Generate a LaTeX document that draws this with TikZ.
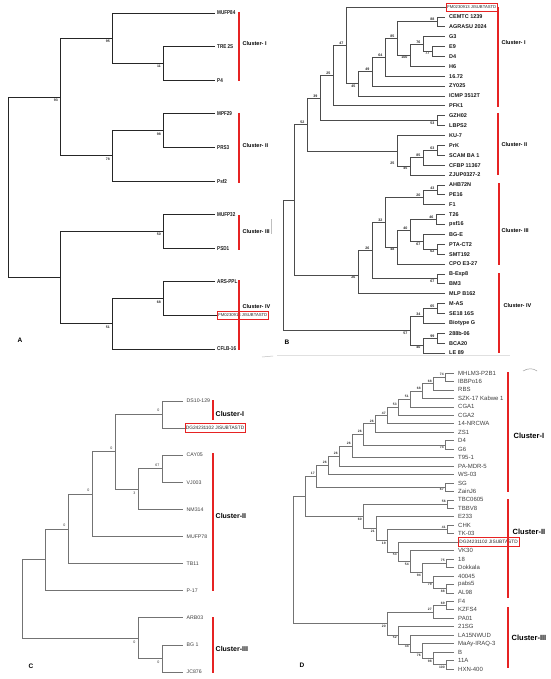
\documentclass[tikz,border=0pt]{standalone}
\usepackage{fontspec}
\setmainfont{Liberation Sans}
\newfontfamily\narrowsans[FakeStretch=0.82]{Liberation Sans}
\definecolor{barred}{RGB}{230,35,35}

\begin{document}
\begin{tikzpicture}[x=1pt, y=-1pt,
    brA/.style={draw=black!85, line width=0.9pt},
    brB/.style={draw=black!70, line width=0.75pt},
    brC/.style={draw=black!55, line width=0.7pt},
    brD/.style={draw=black!55, line width=0.65pt},
    leafA/.style={anchor=west, inner xsep=2pt, inner ysep=0.5pt, text=black!90, font=\narrowsans\fontsize{5.6}{6}\selectfont\bfseries},
    leafB/.style={anchor=west, inner xsep=4pt, inner ysep=0.5pt, text=black!90, font=\fontsize{5.5}{6}\selectfont\bfseries},
    leafC/.style={anchor=west, inner xsep=3.5pt, inner ysep=0.5pt, text=black!75, font=\fontsize{5.2}{6}\selectfont},
    leafD/.style={anchor=west, inner xsep=4pt, inner ysep=0.5pt, text=black!75, font=\fontsize{6}{7}\selectfont},
    boxA/.style={anchor=west, draw=barred, line width=0.6pt, inner xsep=1pt, inner ysep=2.4pt, text=black!85, font=\fontsize{4.2}{5}\selectfont},
    boxC/.style={anchor=west, draw=barred, line width=0.6pt, inner xsep=1pt, inner ysep=2.7pt, text=black!85, font=\fontsize{4.8}{5.5}\selectfont},
    bsA/.style={font=\fontsize{3.5}{4}\selectfont\bfseries, inner sep=0.5pt, label distance=2pt, text=black!85},
    bsB/.style={font=\fontsize{3.6}{4}\selectfont\bfseries, inner xsep=2.5pt, inner ysep=0.6pt, text=black!85},
    bsC/.style={font=\fontsize{3.6}{4}\selectfont, inner sep=0.6pt, label distance=2.5pt, text=black!80},
    bsD/.style={font=\fontsize{3.3}{4}\selectfont\bfseries, inner sep=0.6pt, label distance=0.8pt, text=black!80},
    cluAB/.style={anchor=west, inner sep=0.5pt, font=\fontsize{5.5}{6}\selectfont\bfseries},
    cluC/.style={anchor=west, inner sep=0.5pt, font=\fontsize{7}{8}\selectfont\bfseries},
    cluD/.style={anchor=west, inner sep=0.5pt, font=\fontsize{7.5}{8}\selectfont\bfseries},
    redbar/.style={draw=barred, line width=1.1pt},
    panel/.style={font=\fontsize{6.5}{7}\selectfont\bfseries}
]

\fill[white] (0,0) rectangle (550,679);
\useasboundingbox (0,0) rectangle (550,679);


% A
\node[leafA] (mufp84) at (215,13) {MUFP84};
\node[leafA] (tre2s) at (215,46.6) {TRE 2S};
\node[leafA] (pfour) at (215,80.2) {P4};
\node[leafA] (mpf29) at (215,113.8) {MPF29};
\node[leafA] (prs3) at (215,147.4) {PRS3};
\node[leafA] (psf2) at (215,181) {Psf2};
\node[leafA] (mufp32) at (215,214.6) {MUFP32};
\node[leafA] (psd1) at (215,248.2) {PSD1};
\node[leafA] (arsppl) at (215,281.8) {ARS-PPL};
\node[boxA] (fmA) at (217,315.4) {FM0230913 JISUBTASTD};
\node[leafA] (cflb) at (215,349) {CFLB-16};

\coordinate[label={[bsA]below left:11}] (a1) at (163,63.4);
\coordinate[label={[bsA]below left:95}] (a2) at (112,38.2);
\coordinate[label={[bsA]below left:98}] (a3) at (163,130.6);
\coordinate[label={[bsA]below left:78}] (a4) at (112,155.8);
\coordinate[label={[bsA]below left:93}] (a5) at (60,97);
\coordinate[label={[bsA]below left:50}] (a6) at (163,231.4);
\coordinate[label={[bsA]below left:68}] (a7) at (163,298.6);
\coordinate[label={[bsA]below left:51}] (a8) at (112,323.8);
\coordinate (a9) at (60,277.6);
\coordinate (a0) at (8,187.3);

\draw[brA] (a1) |- (tre2s) (a1) |- (pfour);
\draw[brA] (a2) |- (mufp84) (a2) |- (a1);
\draw[brA] (a3) |- (mpf29) (a3) |- (prs3);
\draw[brA] (a4) |- (a3) (a4) |- (psf2);
\draw[brA] (a5) |- (a2) (a5) |- (a4);
\draw[brA] (a6) |- (mufp32) (a6) |- (psd1);
\draw[brA] (a7) |- (arsppl) (a7) |- (fmA);
\draw[brA] (a8) |- (a7) (a8) |- (cflb);
\draw[brA] (a9) |- (a6) (a9) |- (a8);
\draw[brA] (a0) |- (a5) (a0) |- (a9);

\draw[redbar] (239,12) -- (239,81);
\draw[redbar] (239,113) -- (239,183);
\draw[redbar] (239,215) -- (239,250);
\draw[redbar] (239,280) -- (239,350);
\node[cluAB] (cA1) at (242,44) {Cluster- I};
\node[cluAB] (cA2) at (242,146) {Cluster- II};
\node[cluAB] (cA3) at (242,232) {Cluster- III};
\node[cluAB] (cA4) at (242,307) {Cluster- IV};

\node[panel] (pA) at (20,340) {A};
\draw[black!25, line width=0.5pt] (262,357) -- (273,356);


% B
\node[boxA] (fmB) at (446,7) {FM0230913 JISUBTASTD};
\node[leafB] (cemtc) at (445,16.886) {CEMTC 1239};
\node[leafB] (agrasu) at (445,26.772) {AGRASU 2024};
\node[leafB] (gthree) at (445,36.658) {G3};
\node[leafB] (enine) at (445,46.544) {E9};
\node[leafB] (dfourB) at (445,56.43) {D4};
\node[leafB] (hsix) at (445,66.316) {H6};
\node[leafB] (s1672) at (445,76.202) {16.72};
\node[leafB] (zy025) at (445,86.088) {ZY025};
\node[leafB] (icmp) at (445,95.974) {ICMP 3512T};
\node[leafB] (pfk1) at (445,105.86) {PFK1};
\node[leafB] (gzh02) at (445,115.746) {GZH02};
\node[leafB] (lbps2) at (445,125.632) {LBPS2};
\node[leafB] (ku7) at (445,135.518) {KU-7};
\node[leafB] (prk) at (445,145.404) {PrK};
\node[leafB] (scam) at (445,155.29) {SCAM BA 1};
\node[leafB] (cfbp) at (445,165.176) {CFBP 11367};
\node[leafB] (zjup) at (445,175.062) {ZJUP0327-2};
\node[leafB] (ahb72n) at (445,184.948) {AHB72N};
\node[leafB] (pe16) at (445,194.834) {PE16};
\node[leafB] (fone) at (445,204.72) {F1};
\node[leafB] (t26) at (445,214.606) {T26};
\node[leafB] (psf16) at (445,224.492) {psf16};
\node[leafB] (bge) at (445,234.378) {BG-E};
\node[leafB] (ptact2) at (445,244.264) {PTA-CT2};
\node[leafB] (smt192) at (445,254.15) {SMT192};
\node[leafB] (cpo) at (445,264.036) {CPO E3-27};
\node[leafB] (bexp8) at (445,273.922) {B-Exp8};
\node[leafB] (bm3) at (445,283.808) {BM3};
\node[leafB] (mlp) at (445,293.694) {MLP B162};
\node[leafB] (mas) at (445,303.58) {M-AS};
\node[leafB] (se18) at (445,313.466) {SE18 16S};
\node[leafB] (biotype) at (445,323.352) {Biotype G};
\node[leafB] (b288) at (445,333.238) {288b-06};
\node[leafB] (bca20) at (445,343.124) {BCA20};
\node[leafB] (le89) at (445,353.01) {LE 89};

\coordinate[label={[bsB]above left:88}] (b1) at (437,21.83);
\coordinate[label={[bsB]below left:77}] (b2) at (432,51.49);
\coordinate[label={[bsB]above left:76}] (b3) at (423,44.07);
\coordinate[label={[bsB]below left:100}] (b4) at (410,55.19);
\coordinate[label={[bsB]above left:85}] (b5) at (397,38.51);
\coordinate[label={[bsB]above left:64}] (b6) at (385,57.36);
\coordinate[label={[bsB]above left:49}] (b7) at (372,71.72);
\coordinate[label={[bsB]below left:45}] (b8) at (358,83.85);
\coordinate[label={[bsB]above left:47}] (b9) at (346,45.42);
\coordinate[label={[bsB]above left:25}] (b10) at (333,75.64);
\coordinate[label={[bsB]below left:53}] (b11) at (437,120.69);
\coordinate[label={[bsB]above left:39}] (b12) at (320,98.17);
\coordinate[label={[bsB]above left:63}] (b13) at (437,150.35);
\coordinate[label={[bsB]above left:85}] (b14) at (423,157.76);
\coordinate[label={[bsB]below left:45}] (b15) at (410,166.41);
\coordinate[label={[bsB,yshift=-10pt]below left:25}] (b16) at (397,150.97);
\coordinate[label={[bsB]above left:52}] (b17) at (307,124.56);
\coordinate[label={[bsB]above left:43}] (b18) at (437,189.89);
\coordinate[label={[bsB]above left:20}] (b19) at (423,197.31);
\coordinate[label={[bsB]above left:46}] (b20) at (436,219.55);
\coordinate[label={[bsB]below left:62}] (b21) at (437,249.21);
\coordinate[label={[bsB]below left:67}] (b22) at (423,241.8);
\coordinate[label={[bsB]above left:40}] (b23) at (410,230.67);
\coordinate[label={[bsB]below left:48}] (b24) at (397,247.35);
\coordinate[label={[bsB]above left:32}] (b25) at (385,222.33);
\coordinate[label={[bsB]below left:67}] (b26) at (437,278.87);
\coordinate[label={[bsB]above left:26}] (b27) at (372,250.6);
\coordinate[label={[bsB]below left:26}] (b28) at (358,275.6);
\coordinate (b29) at (294,200.1);
\coordinate[label={[bsB]above left:65}] (b30) at (437,308.52);
\coordinate[label={[bsB]above left:34}] (b31) at (423,315.94);
\coordinate[label={[bsB]above left:99}] (b32) at (437,338.18);
\coordinate[label={[bsB]below left:40}] (b33) at (423,345.6);
\coordinate[label={[bsB]below left:57}] (b34) at (410,330.77);
\coordinate (b0) at (283,265.4);

\draw[brB] (b1) |- (cemtc) (b1) |- (agrasu);
\draw[brB] (b2) |- (enine) (b2) |- (dfourB);
\draw[brB] (b3) |- (gthree) (b3) |- (b2);
\draw[brB] (b4) |- (b3) (b4) |- (hsix);
\draw[brB] (b5) |- (b1) (b5) |- (b4);
\draw[brB] (b6) |- (b5) (b6) |- (s1672);
\draw[brB] (b7) |- (b6) (b7) |- (zy025);
\draw[brB] (b8) |- (b7) (b8) |- (icmp);
\draw[brB] (b9) |- (fmB) (b9) |- (b8);
\draw[brB] (b10) |- (b9) (b10) |- (pfk1);
\draw[brB] (b11) |- (gzh02) (b11) |- (lbps2);
\draw[brB] (b12) |- (b10) (b12) |- (b11);
\draw[brB] (b13) |- (prk) (b13) |- (scam);
\draw[brB] (b14) |- (b13) (b14) |- (cfbp);
\draw[brB] (b15) |- (b14) (b15) |- (zjup);
\draw[brB] (b16) |- (ku7) (b16) |- (b15);
\draw[brB] (b17) |- (b12) (b17) |- (b16);
\draw[brB] (b18) |- (ahb72n) (b18) |- (pe16);
\draw[brB] (b19) |- (b18) (b19) |- (fone);
\draw[brB] (b20) |- (t26) (b20) |- (psf16);
\draw[brB] (b21) |- (ptact2) (b21) |- (smt192);
\draw[brB] (b22) |- (bge) (b22) |- (b21);
\draw[brB] (b23) |- (b20) (b23) |- (b22);
\draw[brB] (b24) |- (b23) (b24) |- (cpo);
\draw[brB] (b25) |- (b19) (b25) |- (b24);
\draw[brB] (b26) |- (bexp8) (b26) |- (bm3);
\draw[brB] (b27) |- (b25) (b27) |- (b26);
\draw[brB] (b28) |- (b27) (b28) |- (mlp);
\draw[brB] (b29) |- (b17) (b29) |- (b28);
\draw[brB] (b30) |- (mas) (b30) |- (se18);
\draw[brB] (b31) |- (b30) (b31) |- (biotype);
\draw[brB] (b32) |- (b288) (b32) |- (bca20);
\draw[brB] (b33) |- (b32) (b33) |- (le89);
\draw[brB] (b34) |- (b31) (b34) |- (b33);
\draw[brB] (b0) |- (b29) (b0) |- (b34);

\draw[redbar] (498,7) -- (498,107);
\draw[redbar] (498,113) -- (498,175);
\draw[redbar] (499,183) -- (499,265);
\draw[redbar] (499,273) -- (499,353);
\node[cluAB] (cB1) at (501,43) {Cluster- I};
\node[cluAB] (cB2) at (501,145) {Cluster- II};
\node[cluAB] (cB3) at (501,231) {Cluster- III};
\node[cluAB] (cB4) at (503,306) {Cluster- IV};

\node[panel] (pB) at (287,342) {B};
\draw[black!12, line width=0.6pt] (277,355.5) -- (510,355.5);
\draw[black!25, line width=0.5pt] (271.5,219) -- (271.5,234);


% C
\node[leafC] (ds10) at (183,401) {DS10-129};
\node[boxC] (dgC) at (184.5,428.1) {DG24231102 JISUBTASTD};
\node[leafC] (cay05) at (183,455.2) {CAY05};
\node[leafC] (vj003) at (183,482.3) {VJ003};
\node[leafC] (nm314) at (183,509.4) {NM314};
\node[leafC] (mufp78) at (183,536.5) {MUFP78};
\node[leafC] (tb11) at (183,563.6) {TB11};
\node[leafC] (p17) at (183,590.7) {P-17};
\node[leafC] (arb03) at (183,617.8) {ARB03};
\node[leafC] (bg1) at (183,644.9) {BG 1};
\node[leafC] (jc876) at (183,672) {JC876};

\coordinate[label={[bsC]above left:0}] (c1) at (162,414.55);
\coordinate[label={[bsC]above left:67}] (c2) at (162,468.75);
\coordinate[label={[bsC]below left:3}] (c3) at (138,489.08);
\coordinate[label={[bsC]above left:0}] (c4) at (115,451.81);
\coordinate[label={[bsC]above left:0}] (c5) at (92,494.16);
\coordinate[label={[bsC]above left:0}] (c6) at (68,528.9);
\coordinate (c7) at (45,559.8);
\coordinate[label={[bsC]below left:0}] (c8) at (162,658.45);
\coordinate[label={[bsC]below left:0}] (c9) at (138,638.1);
\coordinate (c0) at (22,599);

\draw[brC] (c1) |- (ds10) (c1) |- (dgC);
\draw[brC] (c2) |- (cay05) (c2) |- (vj003);
\draw[brC] (c3) |- (c2) (c3) |- (nm314);
\draw[brC] (c4) |- (c1) (c4) |- (c3);
\draw[brC] (c5) |- (c4) (c5) |- (mufp78);
\draw[brC] (c6) |- (c5) (c6) |- (tb11);
\draw[brC] (c7) |- (c6) (c7) |- (p17);
\draw[brC] (c8) |- (bg1) (c8) |- (jc876);
\draw[brC] (c9) |- (arb03) (c9) |- (c8);
\draw[brC] (c0) |- (c7) (c0) |- (c9);

\draw[redbar] (213,400) -- (213,420);
\draw[redbar] (213,453) -- (213,591);
\draw[redbar] (213,617) -- (213,673);
\node[cluC] (cC1) at (215,414) {Cluster-I};
\node[cluC] (cC2) at (215,516) {Cluster-II};
\node[cluC] (cC3) at (215,649) {Cluster-III};

\node[panel] (pC) at (31,666) {C};


% D
\node[leafD] (mhlm3) at (454,373) {MHLM3-P2B1};
\node[leafD] (ibbpo16) at (454,381.457) {IBBPo16};
\node[leafD] (rbs) at (454,389.914) {RBS};
\node[leafD] (szk17) at (454,398.371) {SZK-17 Kabwe 1};
\node[leafD] (cga1) at (454,406.828) {CGA1};
\node[leafD] (cga2) at (454,415.285) {CGA2};
\node[leafD] (nrcwa) at (454,423.742) {14-NRCWA};
\node[leafD] (zs1) at (454,432.199) {ZS1};
\node[leafD] (dfourD) at (454,440.656) {D4};
\node[leafD] (gsix) at (454,449.113) {G6};
\node[leafD] (t951) at (454,457.57) {T95-1};
\node[leafD] (pamdr5) at (454,466.027) {PA-MDR-5};
\node[leafD] (ws03) at (454,474.484) {WS-03};
\node[leafD] (sg) at (454,482.941) {SG};
\node[leafD] (zainj6) at (454,491.398) {ZainJ6};
\node[leafD] (tbc0605) at (454,499.855) {TBC0605};
\node[leafD] (tbbv8) at (454,508.312) {TBBV8};
\node[leafD] (e233) at (454,516.769) {E233};
\node[leafD] (chk) at (454,525.226) {CHK};
\node[leafD] (tk03) at (454,533.683) {TK-03};
\node[boxC] (dgD) at (458,542.14) {DG24231102 JISUBTASTD};
\node[leafD] (vk30) at (454,550.597) {VK30};
\node[leafD] (eighteen) at (454,559.054) {18};
\node[leafD] (dokkala) at (454,567.511) {Dokkala};
\node[leafD] (n40045) at (454,575.968) {40045};
\node[leafD] (pabs5) at (454,584.425) {pabs5};
\node[leafD] (al98) at (454,592.882) {AL98};
\node[leafD] (ffour) at (454,601.339) {F4};
\node[leafD] (kzfs4) at (454,609.796) {KZFS4};
\node[leafD] (pa01) at (454,618.253) {PA01};
\node[leafD] (s21sg) at (454,626.71) {21SG};
\node[leafD] (la15) at (454,635.167) {LA15NWUD};
\node[leafD] (maay) at (454,643.624) {MaAy-IRAQ-3};
\node[leafD] (bD) at (454,652.081) {B};
\node[leafD] (a11) at (454,660.538) {11A};
\node[leafD] (hxn400) at (454,668.995) {HXN-400};

\coordinate[label={[bsD]above left:74}] (d1) at (445,377.23);
\coordinate[label={[bsD]above left:68}] (d2) at (433,383.57);
\coordinate[label={[bsD]above left:68}] (d3) at (422,390.97);
\coordinate[label={[bsD]above left:51}] (d4) at (410,398.9);
\coordinate[label={[bsD]above left:53}] (d5) at (398,407.1);
\coordinate[label={[bsD]above left:47}] (d6) at (387,415.42);
\coordinate[label={[bsD]above left:26}] (d7) at (375,423.81);
\coordinate[label={[bsD]below left:74}] (d8) at (445,444.88);
\coordinate[label={[bsD]above left:26}] (d9) at (363,434.35);
\coordinate[label={[bsD]above left:26}] (d10) at (352,445.96);
\coordinate[label={[bsD]above left:26}] (d11) at (339,455.97);
\coordinate[label={[bsD]above left:26}] (d12) at (328,465.26);
\coordinate[label={[bsD]below left:67}] (d13) at (445,487.17);
\coordinate[label={[bsD]above left:17}] (d14) at (316,476.2);
\coordinate[label={[bsD]above left:56}] (d15) at (447,504.08);
\coordinate[label={[bsD]above left:41}] (d16) at (447,529.45);
\coordinate[label={[bsD]above left:75}] (d17) at (446,563.28);
\coordinate[label={[bsD]below left:88}] (d18) at (446,588.65);
\coordinate[label={[bsD]below left:79}] (d19) at (433,582.31);
\coordinate[label={[bsD]below left:94}] (d20) at (422,572.8);
\coordinate[label={[bsD]below left:54}] (d21) at (410,561.7);
\coordinate[label={[bsD]below left:53}] (d22) at (398,551.92);
\coordinate[label={[bsD]below left:19}] (d23) at (387,540.7);
\coordinate[label={[bsD]below left:21}] (d24) at (376,528.7);
\coordinate[label={[bsD]below left:60}] (d25) at (363,516.4);
\coordinate (d26) at (305,496.3);
\coordinate[label={[bsD]above left:69}] (d27) at (446,605.57);
\coordinate[label={[bsD]above left:27}] (d28) at (433,611.91);
\coordinate[label={[bsD]below left:100}] (d29) at (446,664.77);
\coordinate[label={[bsD]below left:98}] (d30) at (433,658.42);
\coordinate[label={[bsD]below left:76}] (d31) at (422,652.6);
\coordinate[label={[bsD]below left:34}] (d32) at (410,643.9);
\coordinate[label={[bsD]below left:52}] (d33) at (398,635.3);
\coordinate[label={[bsD]below left:20}] (d34) at (387,623.6);
\coordinate (d0) at (293,560);

\draw[brD] (d1) |- (mhlm3) (d1) |- (ibbpo16);
\draw[brD] (d2) |- (d1) (d2) |- (rbs);
\draw[brD] (d3) |- (d2) (d3) |- (szk17);
\draw[brD] (d4) |- (d3) (d4) |- (cga1);
\draw[brD] (d5) |- (d4) (d5) |- (cga2);
\draw[brD] (d6) |- (d5) (d6) |- (nrcwa);
\draw[brD] (d7) |- (d6) (d7) |- (zs1);
\draw[brD] (d8) |- (dfourD) (d8) |- (gsix);
\draw[brD] (d9) |- (d7) (d9) |- (d8);
\draw[brD] (d10) |- (d9) (d10) |- (t951);
\draw[brD] (d11) |- (d10) (d11) |- (pamdr5);
\draw[brD] (d12) |- (d11) (d12) |- (ws03);
\draw[brD] (d13) |- (sg) (d13) |- (zainj6);
\draw[brD] (d14) |- (d12) (d14) |- (d13);
\draw[brD] (d15) |- (tbc0605) (d15) |- (tbbv8);
\draw[brD] (d16) |- (chk) (d16) |- (tk03);
\draw[brD] (d17) |- (eighteen) (d17) |- (dokkala);
\draw[brD] (d18) |- (pabs5) (d18) |- (al98);
\draw[brD] (d19) |- (n40045) (d19) |- (d18);
\draw[brD] (d20) |- (d17) (d20) |- (d19);
\draw[brD] (d21) |- (vk30) (d21) |- (d20);
\draw[brD] (d22) |- (dgD) (d22) |- (d21);
\draw[brD] (d23) |- (d16) (d23) |- (d22);
\draw[brD] (d24) |- (e233) (d24) |- (d23);
\draw[brD] (d25) |- (d15) (d25) |- (d24);
\draw[brD] (d26) |- (d14) (d26) |- (d25);
\draw[brD] (d27) |- (ffour) (d27) |- (kzfs4);
\draw[brD] (d28) |- (d27) (d28) |- (pa01);
\draw[brD] (d29) |- (a11) (d29) |- (hxn400);
\draw[brD] (d30) |- (bD) (d30) |- (d29);
\draw[brD] (d31) |- (maay) (d31) |- (d30);
\draw[brD] (d32) |- (la15) (d32) |- (d31);
\draw[brD] (d33) |- (s21sg) (d33) |- (d32);
\draw[brD] (d34) |- (d28) (d34) |- (d33);
\draw[brD] (d0) |- (d26) (d0) |- (d34);

\draw[redbar] (508,372) -- (508,492);
\draw[redbar] (508,499) -- (508,598);
\draw[redbar] (508,607) -- (508,668);
\node[cluD] (cD1) at (513,436) {Cluster-I};
\node[cluD] (cD2) at (512,532) {Cluster-II};
\node[cluD] (cD3) at (511,638) {Cluster-III};

\node[panel] (pD) at (302,665) {D};
\draw[black!40, line width=0.5pt] (523,371) .. controls (528,368) and (533,368) .. (537,371);

\end{tikzpicture}
\end{document}
